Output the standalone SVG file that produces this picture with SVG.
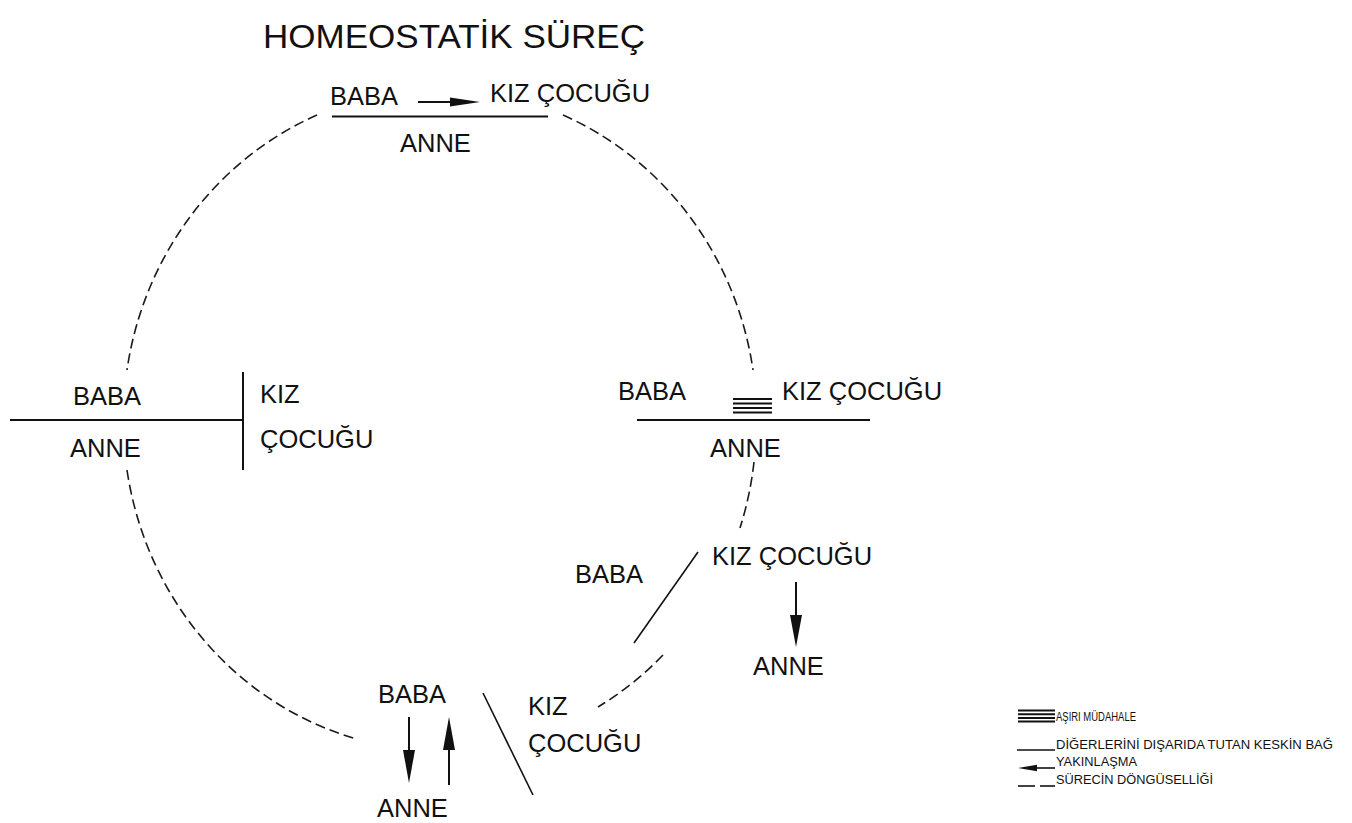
<svg xmlns="http://www.w3.org/2000/svg" width="1352" height="823" viewBox="0 0 1352 823">
<style>
text{font-family:"Liberation Sans",Arial,sans-serif;fill:#111}
.lbl{font-size:25.5px}
.ttl{font-size:34px}
.leg{font-size:12.5px}
.bar{stroke:#111;stroke-width:2;fill:none}
.thin{stroke:#111;stroke-width:1.6;fill:none}
.eq{stroke:#111;stroke-width:2;fill:none}
.dash{stroke:#1a1a1a;stroke-width:1.6;fill:none;stroke-dasharray:10 5}
.head{fill:#111;stroke:none}
</style>
<rect width="1352" height="823" fill="#fff"/>
<text class="ttl" x="263" y="48" textLength="382" lengthAdjust="spacingAndGlyphs">HOMEOSTATİK SÜREÇ</text>
<g id="connectors">
<path class="dash" d="M317 115 A317 331 0 0 0 127 370"/>
<path class="dash" d="M127 470 A317 331 0 0 0 357 739"/>
<path class="dash" d="M563 115 A317 331 0 0 1 753 370"/>
<path class="dash" d="M754 462 A317 331 0 0 1 740 528"/>
<path class="dash" d="M663 655 A317 331 0 0 1 598 707"/>
</g>
<g id="node-top">
<text class="lbl" x="330" y="105">BABA</text>
<line class="bar" x1="418" y1="102" x2="452" y2="102"/>
<polygon class="head" points="450,97.5 480,102 450,106.5"/>
<text class="lbl" x="490" y="102">KIZ ÇOCUĞU</text>
<line class="bar" x1="332" y1="116.5" x2="548" y2="116.5"/>
<text class="lbl" x="400" y="152">ANNE</text>
</g>
<g id="node-right">
<text class="lbl" x="618" y="400">BABA</text>
<line class="eq" x1="733" y1="399" x2="772" y2="399"/>
<line class="eq" x1="733" y1="403.5" x2="772" y2="403.5"/>
<line class="eq" x1="733" y1="408" x2="772" y2="408"/>
<line class="eq" x1="733" y1="412.5" x2="772" y2="412.5"/>
<text class="lbl" x="782" y="400">KIZ ÇOCUĞU</text>
<line class="bar" x1="637" y1="420" x2="870" y2="420"/>
<text class="lbl" x="710" y="457">ANNE</text>
</g>
<g id="node-left">
<text class="lbl" x="73" y="405">BABA</text>
<line class="bar" x1="10" y1="420" x2="243" y2="420"/>
<text class="lbl" x="70" y="457">ANNE</text>
<line class="bar" x1="243" y1="372" x2="243" y2="470"/>
<text class="lbl" x="260" y="403">KIZ</text>
<text class="lbl" x="260" y="448">ÇOCUĞU</text>
</g>
<g id="node-lower-right">
<text class="lbl" x="575" y="583">BABA</text>
<line class="thin" x1="698" y1="552" x2="634" y2="643"/>
<text class="lbl" x="712" y="565">KIZ ÇOCUĞU</text>
<line class="bar" x1="796" y1="582" x2="796" y2="618"/>
<polygon class="head" points="790,615 796,647 802,615"/>
<text class="lbl" x="753" y="675">ANNE</text>
</g>
<g id="node-bottom">
<text class="lbl" x="378" y="703">BABA</text>
<line class="bar" x1="409" y1="717" x2="409" y2="752"/>
<polygon class="head" points="403,750 409,783 415,750"/>
<line class="bar" x1="449" y1="785" x2="449" y2="748"/>
<polygon class="head" points="443,750 449,717 455,750"/>
<text class="lbl" x="377" y="817">ANNE</text>
<line class="thin" x1="483" y1="693" x2="533" y2="795"/>
<text class="lbl" x="528" y="715">KIZ</text>
<text class="lbl" x="528" y="752">ÇOCUĞU</text>
</g>
<g id="legend">
<line class="eq" x1="1018" y1="710.5" x2="1055" y2="710.5"/>
<line class="eq" x1="1018" y1="714.2" x2="1055" y2="714.2"/>
<line class="eq" x1="1018" y1="717.9" x2="1055" y2="717.9"/>
<line class="eq" x1="1018" y1="721.6" x2="1055" y2="721.6"/>
<text class="leg" x="1056" y="721" textLength="80" lengthAdjust="spacingAndGlyphs">AŞIRI MÜDAHALE</text>
<line class="thin" x1="1017" y1="750" x2="1055" y2="750"/>
<text class="leg" x="1056" y="749" textLength="277" lengthAdjust="spacingAndGlyphs">DİĞERLERİNİ DIŞARIDA TUTAN KESKİN BAĞ</text>
<line class="thin" x1="1030" y1="768" x2="1055" y2="768"/>
<polygon class="head" points="1037,764.8 1018,768 1037,771.2"/>
<text class="leg" x="1056" y="766" textLength="81" lengthAdjust="spacingAndGlyphs">YAKINLAŞMA</text>
<line class="thin" x1="1018" y1="786" x2="1035" y2="786"/>
<line class="thin" x1="1040" y1="786" x2="1055" y2="786"/>
<text class="leg" x="1056" y="784" textLength="157" lengthAdjust="spacingAndGlyphs">SÜRECİN DÖNGÜSELLİĞİ</text>
</g>
</svg>
